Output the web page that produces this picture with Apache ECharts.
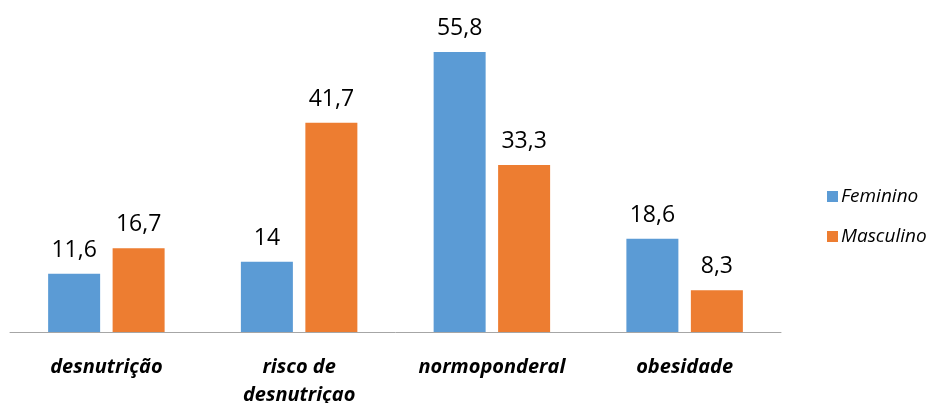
<!DOCTYPE html>
<html>
<head>
<meta charset="utf-8">
<script src="https://cdn.jsdelivr.net/npm/echarts@6/dist/echarts.min.js"></script>
<style>
  html, body { margin: 0; padding: 0; background: #ffffff; }
  #chart { width: 928px; height: 403px; }
</style>
</head>
<body>
<div id="chart"></div>
<script>
// Nutritional status by sex (%)
const categories = ['desnutrição', 'risco de\ndesnutriçao', 'normoponderal', 'obesidade'];
const feminino = [11.6, 14, 55.8, 18.6];
const masculino = [16.7, 41.7, 33.3, 8.3];
const seriesNames = ['Feminino', 'Masculino'];

const fmt = p => String(p.value).replace('.', ',');

const chart = echarts.init(document.getElementById('chart'), null, { renderer: 'canvas' });
chart.setOption({
  animation: false,
  textStyle: { fontFamily: '"Open Sans", sans-serif' },
  grid: { left: 10, right: 147, top: 31, bottom: 71, containLabel: false, outerBoundsMode: 'none' },
  legend: {
    orient: 'vertical',
    left: 822,
    top: 182,
    itemWidth: 11,
    itemHeight: 11,
    itemGap: 21,
    icon: 'rect',
    textStyle: { fontSize: 19, fontStyle: 'italic', color: '#000', fontFamily: '"Open Sans", sans-serif', padding: [0, 0, 0, -2] },
    data: seriesNames
  },
  xAxis: {
    type: 'category',
    data: categories,
    axisLine: { lineStyle: { color: '#a6a6a6', width: 1 } },
    axisTick: { show: false },
    axisLabel: {
      margin: 21,
      fontSize: 20,
      fontWeight: 'bold',
      fontStyle: 'italic',
      color: '#000',
      lineHeight: 28,
      interval: 0
    }
  },
  yAxis: {
    type: 'value',
    min: 0,
    max: 60,
    show: false,
    splitLine: { show: false }
  },
  series: [
    {
      name: seriesNames[0],
      type: 'bar',
      data: feminino,
      barWidth: 52,
      barGap: '24%',
      itemStyle: { color: '#5b9bd5' },
      label: { show: true, position: 'top', distance: 12, fontSize: 23, color: '#000', formatter: fmt }
    },
    {
      name: seriesNames[1],
      type: 'bar',
      data: masculino,
      barWidth: 52,
      barGap: '24%',
      itemStyle: { color: '#ed7d31' },
      label: { show: true, position: 'top', distance: 12, fontSize: 23, color: '#000', formatter: fmt }
    }
  ]
});
</script>
</body>
</html>
